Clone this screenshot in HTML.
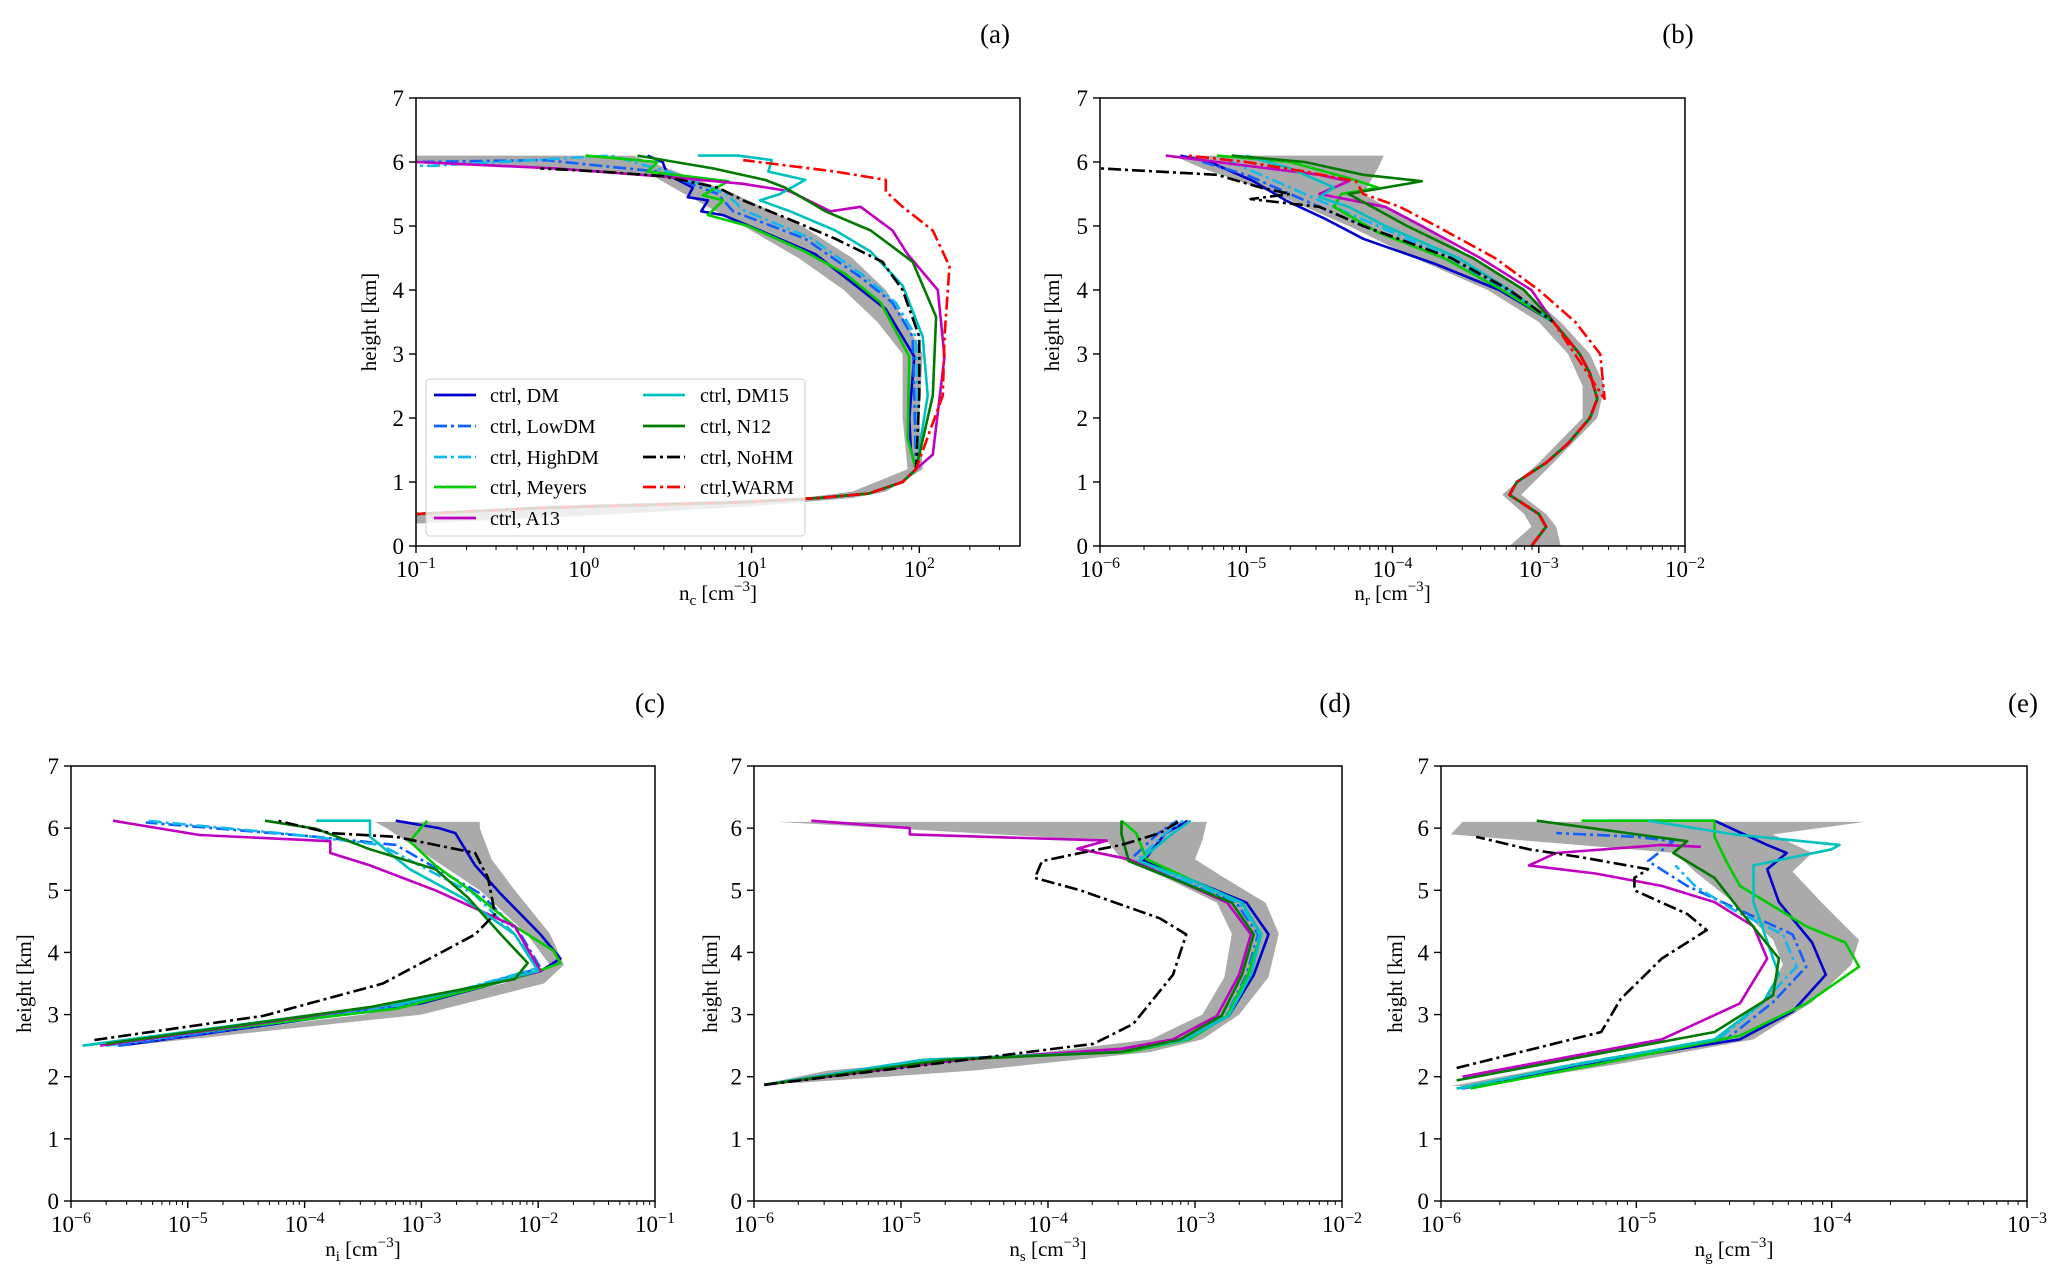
<!DOCTYPE html>
<html><head><meta charset="utf-8">
<style>
html,body{margin:0;padding:0;background:#fff;}
svg{display:block;font-family:"Liberation Serif","DejaVu Serif",serif;}
</style></head>
<body>
<svg id="fig" width="2067" height="1287" viewBox="0 0 2067 1287" xmlns="http://www.w3.org/2000/svg"></svg>
<script>
// ---- data: each profile is [height_km, log10(value)] pairs ----
const seriesNames = ["ctrl, DM","ctrl, LowDM","ctrl, HighDM","ctrl, Meyers","ctrl, A13","ctrl, DM15","ctrl, N12","ctrl, NoHM","ctrl,WARM"];
// panel a: n_c
const aBase = [[0.5,-1],[0.6,-0.2],[0.68,0.9],[0.75,1.4],[0.82,1.7],[1.0,1.9],[1.2,1.98]];
const aDM = [[1.5,1.95],[2.0,1.94],[2.96,1.97],[3.7,1.8],[4.07,1.62],[4.56,1.38],[4.93,1.05],[5.17,0.83],[5.23,0.7],[5.4,0.74],[5.45,0.62],[5.6,0.65],[5.8,0.5],[6.0,0.47],[6.1,0.38]];
const aMeyers = [[1.68,1.93],[2.96,1.94],[3.8,1.77],[4.25,1.56],[4.6,1.32],[5.0,0.98],[5.17,0.74],[5.4,0.83],[5.48,0.71],[5.7,0.86],[5.85,0.38],[6.0,0.44],[6.1,0.01]];
const aLowDM = [[2.35,1.97],[3.27,1.96],[3.8,1.84],[4.2,1.65],[4.8,1.32],[5.23,0.89],[5.5,0.8],[5.85,0.44],[6.03,-0.23],[6.0,-1.0]];
const aHighDM = [[2.35,1.99],[3.27,1.98],[3.8,1.86],[4.2,1.68],[4.8,1.36],[5.25,0.95],[5.5,0.85],[5.85,0.5],[6.1,0.16],[5.94,-0.9],[5.94,-1.0]];
const aDM15 = [[2.35,2.05],[3.27,2.02],[4.07,1.9],[4.6,1.71],[4.93,1.5],[5.23,1.23],[5.4,1.05],[5.5,1.17],[5.72,1.32],[5.85,1.1],[6.03,1.12],[6.1,0.92],[6.1,0.68]];
const aN12 = [[2.35,2.08],[3.58,2.1],[4.44,1.96],[4.93,1.71],[5.23,1.44],[5.6,1.2],[5.72,1.08],[5.9,0.77],[6.1,0.32]];
const aNoHM = [[2.35,2.0],[3.27,2.0],[4.0,1.9],[4.44,1.78],[4.8,1.5],[5.1,1.23],[5.4,0.95],[5.6,0.8],[5.78,0.47],[5.85,0.1],[5.9,-0.26]];
const aA13 = [[1.43,2.08],[2.96,2.15],[4.0,2.11],[4.56,1.93],[4.93,1.84],[5.3,1.65],[5.23,1.47],[5.54,1.23],[5.66,0.95],[5.78,0.44],[5.9,-0.17],[6.0,-1.0]];
const aWARM = [[2.35,2.14],[3.27,2.15],[4.37,2.18],[4.93,2.08],[5.3,1.9],[5.54,1.8],[5.72,1.8],[5.85,1.5],[6.03,0.95]];
const aBandH = [0.35,0.5,0.62,0.75,0.85,1.2,2.0,3.0,3.5,4.0,4.5,5.0,5.5,5.8,6.0,6.1];
const aBandLo = [-1,-1,-0.3,1.3,1.6,1.93,1.9,1.9,1.75,1.55,1.28,0.95,0.6,0.4,-1,-1];
const aBandHi = [-1,0.2,1.0,1.6,1.8,2.02,2.0,2.02,1.92,1.8,1.6,1.3,0.9,0.6,0.4,0.3];
// panel b: n_r
const bBase = [[0,-3.05],[0.3,-2.95],[0.5,-3.0],[0.8,-3.2],[1.0,-3.15],[1.3,-2.95],[1.6,-2.8],[2.0,-2.65],[2.3,-2.6],[2.7,-2.65],[3.0,-2.72],[3.5,-2.9]];
const bDM = [[4.0,-3.27],[4.4,-3.7],[4.8,-4.2],[5.1,-4.45],[5.4,-4.73],[5.7,-4.95],[6.0,-5.25],[6.1,-5.45]];
const bMeyers = [[4.0,-3.25],[4.5,-3.65],[4.9,-4.1],[5.3,-4.4],[5.5,-4.35],[5.6,-4.1],[5.75,-4.3],[6.0,-4.7],[6.1,-5.2]];
const bLowDM = [[4.0,-3.22],[4.5,-3.65],[5.0,-4.2],[5.4,-4.6],[5.6,-4.8],[5.8,-5.0],[6.0,-5.3]];
const bHighDM = [[4.0,-3.2],[4.5,-3.6],[5.0,-4.1],[5.4,-4.5],[5.8,-4.9],[6.1,-5.2]];
const bDM15 = [[4.0,-3.2],[4.5,-3.55],[5.0,-4.05],[5.3,-4.3],[5.45,-4.5],[5.6,-4.4],[5.9,-4.7],[6.1,-5.0]];
const bN12 = [[4.0,-3.1],[4.5,-3.45],[5.0,-3.9],[5.5,-4.3],[5.7,-3.8],[5.8,-4.2],[6.0,-4.6],[6.1,-5.1]];
const bNoHM = [[4.0,-3.2],[4.5,-3.6],[5.0,-4.2],[5.3,-4.5],[5.42,-4.97],[5.5,-4.7],[5.6,-4.9],[5.8,-5.2],[5.9,-6.0]];
const bA13 = [[4.0,-3.05],[4.5,-3.4],[5.0,-3.8],[5.3,-4.05],[5.5,-4.5],[5.7,-4.3],[5.8,-4.5],[6.0,-5.2],[6.1,-5.55]];
const bWARM = [[2.3,-2.55],[3.0,-2.58],[3.5,-2.75],[4.0,-3.0],[4.5,-3.3],[5.0,-3.7],[5.3,-3.95],[5.5,-4.2],[5.7,-4.25],[5.85,-4.6],[6.0,-5.0],[6.1,-5.4]];
const bBandH = [0,0.3,0.5,0.8,1.3,2.0,2.5,3,3.5,4,4.5,5,5.5,5.9,6.1];
const bBandLo = [-3.2,-3.05,-3.1,-3.25,-3.0,-2.7,-2.7,-2.8,-3.0,-3.35,-3.85,-4.3,-4.8,-5.3,-5.5];
const bBandHi = [-2.85,-2.88,-2.95,-3.12,-2.9,-2.6,-2.55,-2.65,-2.85,-3.1,-3.45,-3.8,-4.2,-4.1,-4.06];
// panel c: n_i
const cDM = [[2.5,-5.58],[3.18,-3.0],[3.7,-1.98],[3.9,-1.81],[4.29,-1.98],[4.94,-2.32],[5.4,-2.54],[5.92,-2.71],[6.0,-2.85],[6.12,-3.22]];
const cLowDM = [[2.5,-5.6],[3.18,-3.05],[3.75,-1.98],[4.29,-2.15],[4.94,-2.49],[5.73,-3.22],[5.86,-3.9],[6.09,-5.36]];
const cHighDM = [[2.5,-5.7],[3.18,-3.08],[3.75,-2.0],[4.29,-2.2],[4.94,-2.55],[5.73,-3.35],[5.9,-4.1],[6.12,-5.36]];
const cMeyers = [[2.5,-5.9],[3.1,-3.2],[3.64,-2.09],[3.83,-1.81],[4.03,-1.87],[4.42,-2.2],[4.94,-2.54],[5.4,-2.88],[5.79,-3.1],[6.12,-2.95]];
const cA13 = [[2.5,-5.75],[3.2,-3.1],[3.7,-1.98],[4.42,-2.2],[5.0,-2.88],[5.4,-3.44],[5.6,-3.78],[5.79,-3.78],[5.89,-4.9],[6.12,-5.64]];
const cDM15 = [[2.5,-5.9],[3.2,-3.1],[3.7,-2.0],[4.29,-2.2],[4.88,-2.65],[5.34,-3.1],[5.86,-3.44],[6.12,-3.44],[6.12,-3.9]];
const cN12 = [[2.53,-5.7],[3.12,-3.44],[3.57,-2.2],[3.83,-2.09],[4.29,-2.32],[4.88,-2.6],[5.34,-2.88],[5.66,-3.44],[5.99,-3.9],[6.12,-4.34]];
const cNoHM = [[2.59,-5.8],[2.98,-4.35],[3.5,-3.33],[4.29,-2.54],[4.62,-2.37],[5.2,-2.43],[5.6,-2.54],[5.86,-3.22],[5.92,-3.78],[6.12,-4.23]];
const cBandH = [2.5,3.0,3.5,3.8,4.3,5.0,5.5,6.0,6.1];
const cBandLo = [-5.7,-3.5,-2.3,-1.9,-2.1,-2.5,-2.9,-3.3,-3.4];
const cBandHi = [-5.5,-3.0,-1.95,-1.78,-1.9,-2.2,-2.4,-2.5,-2.5];
// panel d: n_s
const dDM = [[1.87,-5.93],[2.27,-4.85],[2.4,-3.5],[2.6,-3.06],[2.98,-2.77],[3.64,-2.6],[4.29,-2.5],[4.8,-2.65],[5.14,-3.0],[5.47,-3.35],[5.92,-3.2],[6.12,-3.05]];
const dLowDM = [[1.87,-5.93],[2.27,-4.85],[2.4,-3.5],[2.6,-3.06],[2.98,-2.79],[3.64,-2.65],[4.29,-2.57],[4.8,-2.72],[5.14,-3.08],[5.47,-3.45],[5.92,-3.25],[6.12,-3.12]];
const dHighDM = [[1.87,-5.93],[2.27,-4.85],[2.4,-3.5],[2.6,-3.06],[2.98,-2.79],[3.64,-2.64],[4.29,-2.56],[4.8,-2.7],[5.14,-3.05],[5.47,-3.4],[5.92,-3.2],[6.12,-3.08]];
const dMeyers = [[1.87,-5.93],[2.27,-4.8],[2.4,-3.45],[2.6,-3.04],[2.98,-2.78],[3.64,-2.64],[4.29,-2.55],[4.8,-2.68],[5.14,-3.0],[5.5,-3.33],[5.92,-3.4],[6.12,-3.5]];
const dA13 = [[1.87,-5.93],[2.27,-4.6],[2.45,-3.5],[2.6,-3.15],[2.98,-2.85],[3.64,-2.7],[4.29,-2.62],[4.8,-2.78],[5.14,-3.1],[5.5,-3.45],[5.67,-3.8],[5.8,-3.6],[5.9,-4.94],[6.0,-4.94],[6.12,-5.61]];
const dDM15 = [[1.87,-5.93],[2.27,-4.85],[2.4,-3.5],[2.6,-3.06],[2.98,-2.77],[3.64,-2.62],[4.29,-2.55],[4.8,-2.68],[5.14,-3.0],[5.47,-3.38],[5.92,-3.15],[6.12,-3.03]];
const dN12 = [[1.87,-5.93],[2.27,-4.7],[2.4,-3.5],[2.6,-3.1],[2.98,-2.82],[3.64,-2.68],[4.29,-2.6],[4.8,-2.75],[5.14,-3.1],[5.47,-3.45],[5.9,-3.5],[6.12,-3.5]];
const dNoHM = [[1.87,-5.93],[2.2,-4.8],[2.53,-3.69],[2.85,-3.42],[3.64,-3.15],[4.29,-3.06],[4.55,-3.24],[5.0,-3.78],[5.2,-4.09],[5.47,-4.04],[5.6,-3.78],[5.73,-3.5],[5.92,-3.24],[6.12,-3.1]];
const dBandH = [1.9,2.1,2.4,2.6,3.0,3.6,4.3,4.8,5.2,5.5,5.8,6.1];
const dBandLo = [-5.9,-5.5,-4.0,-3.3,-2.95,-2.8,-2.75,-2.85,-3.2,-3.5,-3.6,-5.84];
const dBandHi = [-5.7,-4.5,-3.3,-2.95,-2.7,-2.5,-2.43,-2.52,-2.8,-3.0,-2.95,-2.92];
// panel e: n_g
const eDM = [[1.81,-5.89],[2.2,-5.28],[2.6,-4.47],[3.05,-4.2],[3.64,-4.03],[4.16,-4.1],[4.81,-4.27],[5.34,-4.33],[5.6,-4.23],[5.73,-4.33],[6.12,-4.6],[6.12,-5.14]];
const eLowDM = [[1.81,-5.9],[2.2,-5.3],[2.6,-4.54],[3.2,-4.3],[3.77,-4.13],[4.29,-4.2],[4.68,-4.47],[5.07,-4.74],[5.47,-4.94],[5.79,-4.81],[5.86,-5.0],[5.92,-5.41]];
const eHighDM = [[1.81,-5.9],[2.2,-5.32],[2.6,-4.58],[3.2,-4.35],[3.77,-4.18],[4.29,-4.25],[4.68,-4.5],[5.07,-4.7],[5.4,-4.8]];
const eMeyers = [[1.81,-5.85],[2.2,-5.2],[2.66,-4.47],[3.18,-4.13],[3.77,-3.86],[4.16,-3.93],[4.42,-4.13],[5.07,-4.47],[5.47,-4.54],[5.86,-4.6],[6.12,-4.6],[6.12,-5.28]];
const eA13 = [[2.0,-5.89],[2.6,-4.87],[3.18,-4.47],[3.9,-4.33],[4.42,-4.4],[4.81,-4.6],[5.07,-4.87],[5.27,-5.21],[5.4,-5.55],[5.6,-5.41],[5.73,-4.87],[5.7,-4.67]];
const eDM15 = [[1.81,-5.92],[2.2,-5.3],[2.6,-4.6],[3.2,-4.35],[3.64,-4.27],[4.81,-4.4],[5.4,-4.4],[5.66,-4.0],[5.73,-3.96],[5.9,-4.5],[6.12,-4.94]];
const eN12 = [[1.94,-5.92],[2.72,-4.6],[3.31,-4.3],[3.9,-4.27],[4.68,-4.47],[5.2,-4.6],[5.6,-4.81],[5.79,-4.74],[6.12,-5.51]];
const eNoHM = [[2.14,-5.92],[2.72,-5.18],[3.25,-5.08],[3.9,-4.87],[4.36,-4.64],[4.62,-4.74],[5.0,-5.01],[5.2,-5.01],[5.34,-4.94],[5.53,-5.28],[5.66,-5.55],[5.86,-5.82]];
const eBandH = [1.85,2.2,2.6,3.2,3.8,4.2,4.8,5.3,5.6,5.9,6.1];
const eBandLo = [-5.95,-5.35,-4.6,-4.35,-4.25,-4.3,-4.5,-4.7,-4.8,-5.95,-5.89];
const eBandHi = [-5.8,-5.1,-4.4,-4.1,-3.9,-3.86,-4.05,-4.2,-4.1,-4.3,-3.83];

const colors = ["#0000cc","#1060ff","#10b8f0","#00cc00","#c000c0","#00c0c0","#007a00","#000000","#ff0000"];
const dashed = [false,true,true,false,false,false,false,true,true];

const NS="http://www.w3.org/2000/svg";
const svg=document.getElementById('fig');
function el(tag,attrs,parent){const e=document.createElementNS(NS,tag);for(const k in attrs)e.setAttribute(k,attrs[k]);(parent||svg).appendChild(e);return e;}

const panels=[
 {key:'a',x0:416,x1:1020,y0:98,y1:546,lmin:-1,lmax:2.6,sub:'c',ylx:371,xly:600,lab:[995,34],
  series:[aBase.concat(aDM),aBase.concat(aLowDM),aBase.concat(aHighDM),aBase.concat(aMeyers),aBase.concat(aA13),aBase.concat(aDM15),aBase.concat(aN12),aBase.concat(aNoHM),aBase.concat(aWARM)],
  bandH:aBandH,bandLo:aBandLo,bandHi:aBandHi,ticks:[-1,0,1,2]},
 {key:'b',x0:1100,x1:1685,y0:98,y1:546,lmin:-6,lmax:-2,sub:'r',ylx:1054,xly:600,lab:[1678,34],
  series:[bBase.concat(bDM),bBase.concat(bLowDM),bBase.concat(bHighDM),bBase.concat(bMeyers),bBase.concat(bA13),bBase.concat(bDM15),bBase.concat(bN12),bBase.concat(bNoHM),bBase.concat(bWARM)],
  bandH:bBandH,bandLo:bBandLo,bandHi:bBandHi,ticks:[-6,-5,-4,-3,-2]},
 {key:'c',x0:71,x1:655,y0:766,y1:1201,lmin:-6,lmax:-1,sub:'i',ylx:26,xly:1256,lab:[650,703],
  series:[cDM,cLowDM,cHighDM,cMeyers,cA13,cDM15,cN12,cNoHM,null],
  bandH:cBandH,bandLo:cBandLo,bandHi:cBandHi,ticks:[-6,-5,-4,-3,-2,-1]},
 {key:'d',x0:754,x1:1342,y0:766,y1:1201,lmin:-6,lmax:-2,sub:'s',ylx:712,xly:1256,lab:[1335,703],
  series:[dDM,dLowDM,dHighDM,dMeyers,dA13,dDM15,dN12,dNoHM,null],
  bandH:dBandH,bandLo:dBandLo,bandHi:dBandHi,ticks:[-6,-5,-4,-3,-2]},
 {key:'e',x0:1441,x1:2027,y0:766,y1:1201,lmin:-6,lmax:-3,sub:'g',ylx:1397,xly:1256,lab:[2023,703],
  series:[eDM,eLowDM,eHighDM,eMeyers,eA13,eDM15,eN12,eNoHM,null],
  bandH:eBandH,bandLo:eBandLo,bandHi:eBandHi,ticks:[-6,-5,-4,-3]}
];

panels.forEach(p=>{
  const X=l=>p.x0+(l-p.lmin)/(p.lmax-p.lmin)*(p.x1-p.x0);
  const Y=h=>p.y1-h/7*(p.y1-p.y0);
  const g=el('g',{});
  
  
  const cid='clip'+p.key;
  const cp=el('clipPath',{id:cid},g);
  el('rect',{x:p.x0,y:p.y0,width:p.x1-p.x0,height:p.y1-p.y0},cp);
  const plot=el('g',{'clip-path':'url(#'+cid+')'},g);
  let pts=[];
  for(let i=0;i<p.bandH.length;i++)pts.push(X(p.bandLo[i]).toFixed(1)+','+Y(p.bandH[i]).toFixed(1));
  for(let i=p.bandH.length-1;i>=0;i--)pts.push(X(p.bandHi[i]).toFixed(1)+','+Y(p.bandH[i]).toFixed(1));
  const band=el('polygon',{points:pts.join(' '),fill:'#aaaaaa',stroke:'none'},plot);
  
  
  p.series.forEach((s,i)=>{
    if(!s)return;
    const d=s.map(q=>X(q[1]).toFixed(1)+','+Y(q[0]).toFixed(1)).join(' ');
    const a={points:d,fill:'none',stroke:colors[i],'stroke-width':2.6,'stroke-linejoin':'round'};
    if(dashed[i])a['stroke-dasharray']='13,4,3,4';
    const ln=el('polyline',a,plot);
    
    
  });
  const fr=el('rect',{x:p.x0,y:p.y0,width:p.x1-p.x0,height:p.y1-p.y0,fill:'none',stroke:'#000','stroke-width':1.5},g);
  
  
  for(let d=Math.floor(p.lmin);d<=Math.ceil(p.lmax);d++){
    for(let m=1;m<10;m++){
      const l=d+Math.log10(m); if(l<p.lmin-1e-6||l>p.lmax+1e-6)continue;
      const x=X(l);
      el('line',{x1:x,x2:x,y1:p.y1,y2:p.y1+(m===1?7:4),stroke:'#000','stroke-width':m===1?1.4:1},g);
    }
  }
  p.ticks.forEach(t=>{
    const tx=el('text',{x:X(t),y:p.y1+31,'text-anchor':'middle','font-size':23},g);
    
    
    tx.appendChild(document.createTextNode('10'));
    const sp=el('tspan',{dy:-9,'font-size':16},tx);sp.textContent=(t<0?'\u2212':'')+Math.abs(t);
  });
  for(let h=0;h<=7;h++){
    const y=Y(h);
    el('line',{x1:p.x0-7,x2:p.x0,y1:y,y2:y,stroke:'#000','stroke-width':1.4},g);
    const t=el('text',{x:p.x0-12,y:y+8,'text-anchor':'end','font-size':23},g);
    
    
    t.textContent=h;
  }
  const yl=el('text',{x:p.ylx,y:(p.y0+p.y1)/2,'text-anchor':'middle','font-size':21,transform:'rotate(-90 '+p.ylx+' '+(p.y0+p.y1)/2+')','dominant-baseline':'middle'},g);
  
  
  yl.textContent='height [km]';
  const xl=el('text',{x:(p.x0+p.x1)/2,y:p.xly,'text-anchor':'middle','font-size':21},g);
  
  
  xl.appendChild(document.createTextNode('n'));
  const sb=el('tspan',{dy:5,'font-size':15},xl);sb.textContent=p.sub;
  const rest=el('tspan',{dy:-5},xl);rest.textContent=' [cm';
  const sup=el('tspan',{dy:-9,'font-size':15},xl);sup.textContent='\u22123';
  const cl=el('tspan',{dy:9},xl);cl.textContent=']';
  const pl=el('text',{x:p.lab[0],y:p.lab[1]+9,'text-anchor':'middle','font-size':27},g);
  
  
  pl.textContent='('+p.key+')';
});

const lg=el('g',{});


el('rect',{x:426,y:379,width:379,height:157,rx:4,fill:'rgba(255,255,255,0.8)',stroke:'#cccccc','stroke-width':1},lg);
const rowsY=[395,426,457,487,518];
for(let k=0;k<9;k++){
  const col=k<5?0:1, row=col===0?k:k-5;
  const lx=col===0?434:643, tx=col===0?490:700, y=rowsY[row];
  const a={x1:lx,x2:lx+42,y1:y,y2:y,stroke:colors[k],'stroke-width':2.8};
  if(dashed[k])a['stroke-dasharray']='13,4,3,4';
  el('line',a,lg);
  const t=el('text',{x:tx,y:y+7,'font-size':20},lg);
  
  
  t.textContent=seriesNames[k];
}
</script>
</body></html>
